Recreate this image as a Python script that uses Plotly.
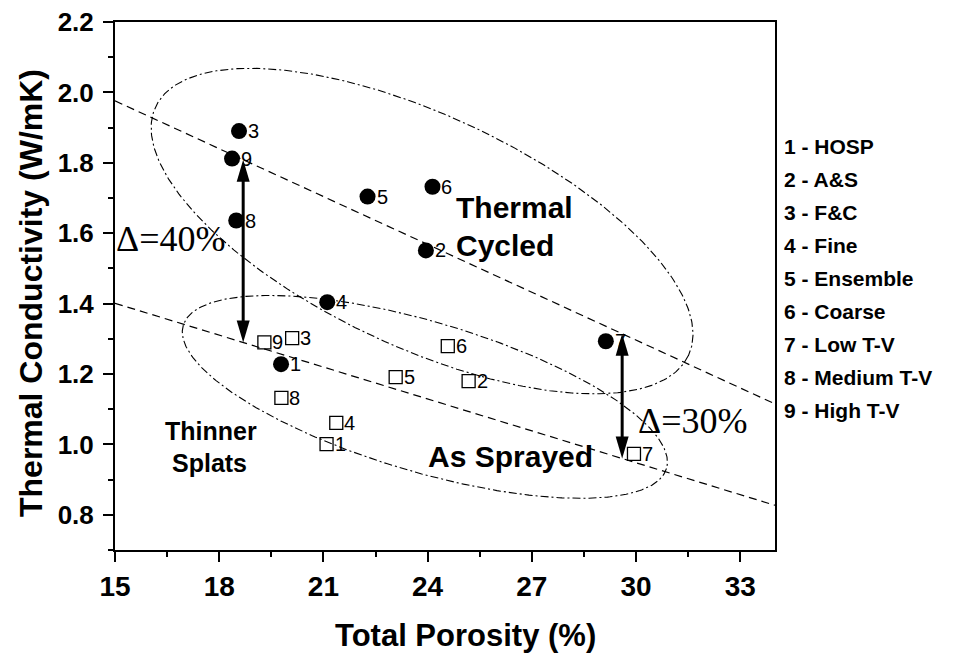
import numpy as np
import plotly.graph_objects as go

# ---------------- data ----------------
point_ids = ["1", "2", "3", "4", "5", "6", "7", "8", "9"]
legend_names = ["HOSP", "A&S", "F&C", "Fine", "Ensemble", "Coarse",
                "Low T-V", "Medium T-V", "High T-V"]

cycled_x = [19.78, 23.95, 18.57, 21.11, 22.27, 24.14, 29.13, 18.49, 18.37]
cycled_y = [1.228, 1.551, 1.890, 1.404, 1.704, 1.732, 1.293, 1.636, 1.812]

sprayed_x = [21.09, 25.18, 20.10, 21.37, 23.08, 24.58, 29.94, 19.79, 19.30]
sprayed_y = [1.001, 1.180, 1.302, 1.061, 1.191, 1.279, 0.973, 1.132, 1.290]

fit_x = [15.0, 34.0]
fit_cycled_y = [1.976, 1.115]
fit_sprayed_y = [1.401, 0.827]

arrow_x = [18.69, 29.6]
arrow_text = ["\u0394=40%", "\u0394=30%"]

x_ticks = [15, 18, 21, 24, 27, 30, 33]
y_ticks = [0.8, 1.0, 1.2, 1.4, 1.6, 1.8, 2.0, 2.2]
x_range = [15, 34]
y_range = [0.7, 2.2]

# ---------------- layout constants ----------------
W, H = 959, 662
ML, MR, MT, MB = 115, 184, 22, 112
PW, PH = W - ML - MR, H - MT - MB
SX = PW / (x_range[1] - x_range[0])   # px per x unit
SY = PH / (y_range[1] - y_range[0])   # px per y unit

FONT = "Arial, 'Liberation Sans', sans-serif"
SERIF = "'Times New Roman', 'Liberation Serif', serif"

fig = go.Figure()

# fitted dashed lines
for fy in (fit_cycled_y, fit_sprayed_y):
    fig.add_trace(go.Scatter(x=fit_x, y=fy, mode="lines",
                             line=dict(color="black", width=1.2, dash="8px,5px"),
                             hoverinfo="skip", showlegend=False))

# grouping ellipses (center in data units, semi-axes in px, tilt in degrees)
ellipses = [
    dict(cx=23.84, cy=1.606, a=294, b=116, ang=25.0),
    dict(cx=23.92, cy=1.135, a=252, b=75, ang=16.5),
]
t = np.linspace(0, 2 * np.pi, 400)
for e in ellipses:
    th = np.deg2rad(e["ang"])
    u = e["a"] * np.cos(t)
    v = e["b"] * np.sin(t)
    dx = u * np.cos(th) - v * np.sin(th)
    dy = u * np.sin(th) + v * np.cos(th)
    fig.add_trace(go.Scatter(x=e["cx"] + dx / SX, y=e["cy"] - dy / SY, mode="lines",
                             line=dict(color="black", width=1.1, dash="8px,3px,2px,3px"),
                             hoverinfo="skip", showlegend=False))

# as sprayed (open squares)
fig.add_trace(go.Scatter(x=sprayed_x, y=sprayed_y, mode="markers",
                         marker=dict(symbol="square-open", size=13, color="black",
                                     line=dict(width=1.3, color="black")),
                         showlegend=False))

# thermal cycled (filled circles)
fig.add_trace(go.Scatter(x=cycled_x, y=cycled_y, mode="markers",
                         marker=dict(symbol="circle", size=16, color="black"),
                         showlegend=False))

annotations = []

# point number labels, placed just right of each marker
for xs, ys, shift in ((sprayed_x, sprayed_y, 6), (cycled_x, cycled_y, 7)):
    for pid, xv, yv in zip(point_ids, xs, ys):
        annotations.append(dict(text=pid, x=xv, y=yv, xref="x", yref="y",
                                showarrow=False, xanchor="left", yanchor="middle",
                                xshift=shift,
                                font=dict(family=FONT, size=20, color="black")))

# double-headed arrows between the two fits
shapes = []
head_len, head_hw = 22, 6.5
for ax_ in arrow_x:
    y_lo = float(np.interp(ax_, fit_x, fit_sprayed_y))
    y_hi = float(np.interp(ax_, fit_x, fit_cycled_y))
    hl = head_len / SY
    hw = head_hw / SX
    shapes.append(dict(type="line", xref="x", yref="y", x0=ax_, x1=ax_,
                       y0=y_lo + hl * 0.8, y1=y_hi - hl * 0.8,
                       line=dict(color="black", width=3)))
    shapes.append(dict(type="path", xref="x", yref="y",
                       path=f"M{ax_},{y_hi} L{ax_-hw},{y_hi-hl} L{ax_+hw},{y_hi-hl} Z",
                       fillcolor="black", line=dict(width=0)))
    shapes.append(dict(type="path", xref="x", yref="y",
                       path=f"M{ax_},{y_lo} L{ax_-hw},{y_lo+hl} L{ax_+hw},{y_lo+hl} Z",
                       fillcolor="black", line=dict(width=0)))


def px2x(px):
    return x_range[0] + (px - ML) / SX


def px2y(py):
    return y_range[1] - (py - MT) / SY


def text_ann(txt, px, py, size, family=FONT, bold=True, xanchor="center"):
    annotations.append(dict(text=txt, x=px2x(px), y=px2y(py), xref="x", yref="y",
                            showarrow=False, xanchor=xanchor, yanchor="middle",
                            font=dict(family=family, size=size, color="black",
                                      weight="bold" if bold else "normal")))


text_ann("Thermal", 454, 207, 30, xanchor="left")
text_ann("Cycled", 454, 245, 30, xanchor="left")
text_ann("As Sprayed", 510, 456, 30)
text_ann("Thinner", 211, 431, 25)
text_ann("Splats", 209, 463, 25)
text_ann(arrow_text[0], 170, 239, 36, family=SERIF, bold=False)
text_ann(arrow_text[1], 692, 421, 36, family=SERIF, bold=False)

# axis titles
annotations.append(dict(text="Total Porosity (%)", xref="paper", yref="paper",
                        x=(465 - ML) / PW, y=-(635 - MT - PH) / PH,
                        showarrow=False, xanchor="center", yanchor="middle",
                        font=dict(family=FONT, size=31, color="black", weight="bold")))
annotations.append(dict(text="Thermal Conductivity (W/mK)", xref="paper", yref="paper",
                        x=-(ML - 31) / PW, y=(MT + PH - 293) / PH, textangle=-90,
                        showarrow=False, xanchor="center", yanchor="middle",
                        font=dict(family=FONT, size=32, color="black", weight="bold")))

# legend text on the right
for i, (pid, name) in enumerate(zip(point_ids, legend_names)):
    annotations.append(dict(text=f"{pid} - {name}", xref="paper", yref="paper",
                            x=(782 - ML) / PW, y=(MT + PH - (146 + 33 * i)) / PH,
                            showarrow=False, xanchor="left", yanchor="middle",
                            font=dict(family=FONT, size=21, color="black", weight="bold")))

x_minor = [(a + b) / 2 for a, b in zip(x_ticks[:-1], x_ticks[1:])]
y_minor = [round(v - 0.1, 2) for v in y_ticks]

fig.update_layout(
    width=W, height=H,
    margin=dict(l=ML, r=MR, t=MT, b=MB, autoexpand=False),
    paper_bgcolor="white", plot_bgcolor="white",
    shapes=shapes, annotations=annotations,
    showlegend=False,
    xaxis=dict(range=x_range, tickmode="array", tickvals=x_ticks,
               ticktext=[str(v) for v in x_ticks],
               ticks="outside", ticklen=10, tickwidth=2, tickcolor="black",
               showline=True, linewidth=2, linecolor="black", mirror=True,
               showgrid=False, zeroline=False,
               minor=dict(tickvals=x_minor, ticks="outside", ticklen=5, tickwidth=2,
                          tickcolor="black", showgrid=False),
               tickfont=dict(family=FONT, size=28, color="black", weight="bold"),
               automargin=False),
    yaxis=dict(range=y_range, tickmode="array", tickvals=y_ticks,
               ticktext=[f"{v:.1f}" for v in y_ticks],
               ticks="outside", ticklen=10, tickwidth=2, tickcolor="black",
               showline=True, linewidth=2, linecolor="black", mirror=True,
               showgrid=False, zeroline=False,
               minor=dict(tickvals=y_minor, ticks="outside", ticklen=5, tickwidth=2,
                          tickcolor="black", showgrid=False),
               tickfont=dict(family=FONT, size=26, color="black", weight="bold"),
               ticklabelstandoff=4,
               automargin=False),
)

fig.write_html("out.html")
